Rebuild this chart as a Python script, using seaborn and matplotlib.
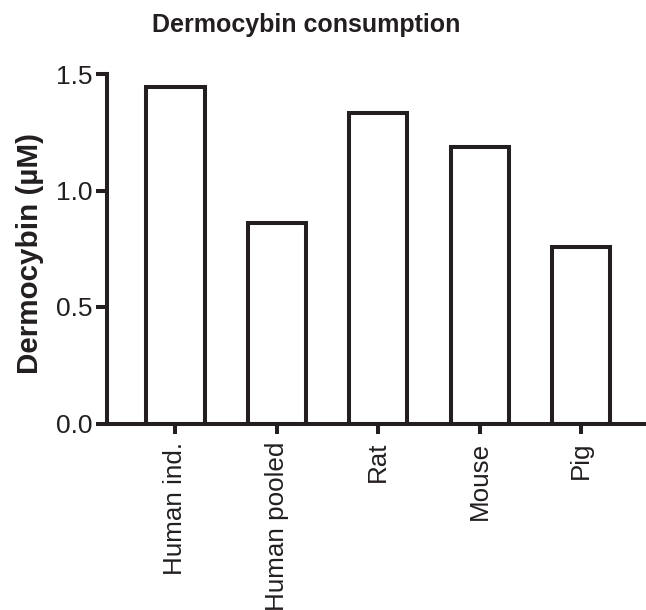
import matplotlib
matplotlib.use("Agg")
import matplotlib.pyplot as plt
import seaborn as sns

categories = ["Human ind.", "Human pooled", "Rat", "Mouse", "Pig"]
values = [1.443, 0.862, 1.334, 1.185, 0.757]
yticks = [0.0, 0.5, 1.0, 1.5]
ytick_labels = ["0.0", "0.5", "1.0", "1.5"]
title = "Dermocybin consumption"
ylabel = "Dermocybin (µM)"

sns.set_style("ticks")
plt.rcParams["font.family"] = ["Liberation Sans", "DejaVu Sans"]

dark = "#231f20"
W, H = 646, 610
fig = plt.figure(figsize=(W / 100, H / 100), dpi=100)
ax = fig.add_axes([106.7 / W, (H - 423.5) / H, 538.3 / W, 349.5 / H])

sns.barplot(x=categories, y=values, color="white", saturation=1,
            edgecolor=dark, linewidth=2.9, width=0.575, errorbar=None, ax=ax)

ax.set_xlim(-0.678, 4.63)
ax.set_ylim(0, 1.5)
ax.set_yticks(yticks)
ax.set_yticklabels(ytick_labels)
ax.set_xlabel("")
ax.set_ylabel("")
for s in ["top", "right"]:
    ax.spines[s].set_visible(False)
for s in ["left", "bottom"]:
    ax.spines[s].set_linewidth(2.9)
    ax.spines[s].set_color(dark)

ax.tick_params(axis="y", length=8, width=2.9, color=dark, labelcolor=dark,
               labelsize=19, pad=2)
ax.tick_params(axis="x", length=7, width=2.9, color=dark, labelcolor=dark,
               labelsize=18.7, pad=6)
plt.setp(ax.get_xticklabels(), rotation=90, ha="center", va="top")

fig.text(306 / W, (H - 31.7) / H, title, ha="center", va="baseline",
         fontsize=18, fontweight="bold", color=dark)
fig.text(30 / W, (H - 254) / H, ylabel, ha="center", va="center",
         rotation=90, fontsize=21.3, fontweight="bold", color=dark)

fig.savefig("out.png", dpi=100)
